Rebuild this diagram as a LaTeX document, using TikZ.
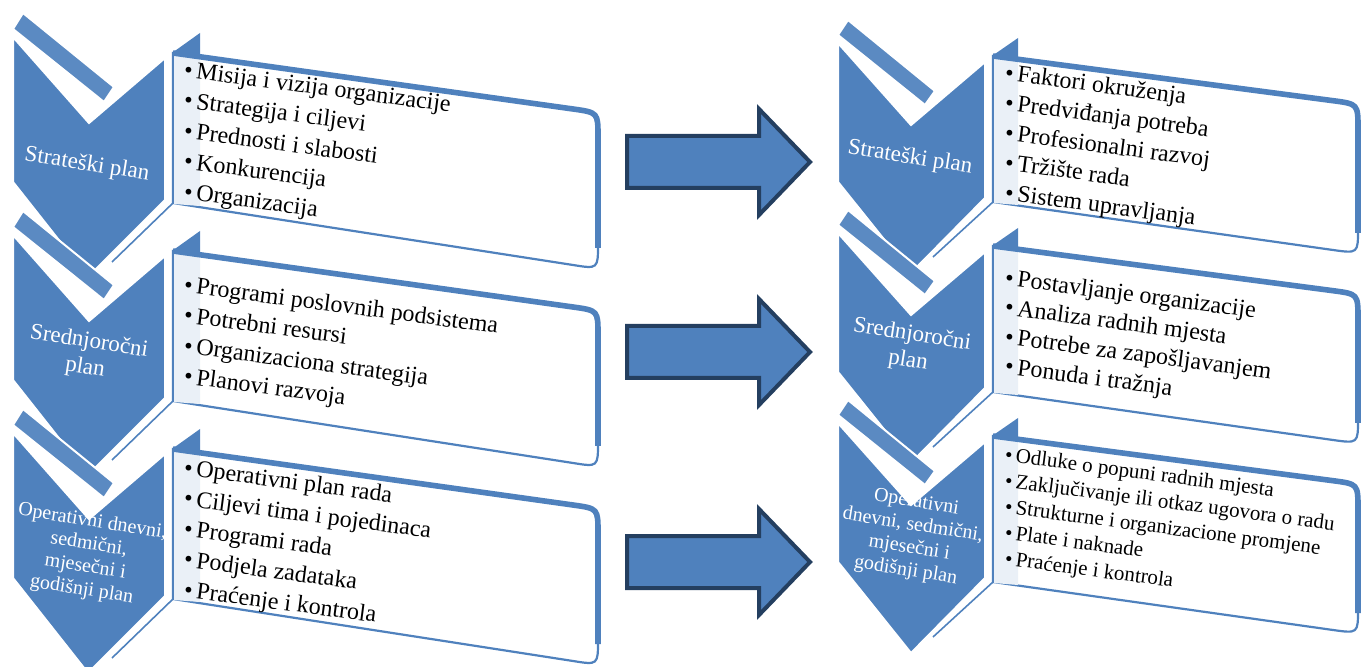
\documentclass[tikz,border=0pt]{standalone}
\usepackage{fontspec}
\setmainfont{Liberation Serif}
\newfontfamily\planfont{Liberation Serif}
\definecolor{chevblue}{HTML}{4F81BD}
\definecolor{arrowline}{HTML}{243F60}
\begin{document}
\begin{tikzpicture}[x=0.5pt,y=-0.5pt,
	chev/.style={fill=chevblue,draw=white,line width=1pt},
	stripe/.style={fill=chevblue!93!white,draw=white,line width=1pt},
	box/.style={fill=white,draw=chevblue,line width=1.1pt},
	boxtop/.style={draw=chevblue,line width=2.8pt},
	tab/.style={fill=chevblue},
	item/.style={anchor=base west,inner sep=0pt,rotate=-7.5,font=\planfont\fontsize{12}{14}\selectfont},
	lab/.style={text=white,align=center,inner sep=0pt,rotate=-9,font=\planfont\fontsize{11.5}{13}\selectfont},
	bigarrow/.style={fill=chevblue,draw=arrowline,line width=2pt}]
	\useasboundingbox (0,0) rectangle (1369,667);

	% left column: chevrons and boxes
	\foreach \k in {0,1,2}{
		\begin{scope}[shift={(0,198*\k)}]
			\draw[chev] (13,37) -- (89,123) -- (165,58) -- (165,200) -- (88,277) -- (13,182) -- cycle;
			\draw[stripe] (13,29) -- (23,13) -- (114,87) -- (104,102) -- cycle;
			\draw[chevblue,line width=0.8pt] (173,203) -- (112,262);
			\fill[tab] (172,53) -- (200,33) -- (200,57) -- cycle;
			\draw[box] (173,53) -- (573,109) .. controls (598,112.5) .. (598,137) -- (598,244) .. controls (598,269) .. (573,265) -- (173,203) -- cycle;
			\fill[chevblue!12] (174,55) -- (200,57) -- (200,206) -- (174,204) -- cycle;
			\draw[boxtop] (173,53) -- (573,109) .. controls (598,112.5) .. (598,137) -- (598,248);
		\end{scope}
	}

	% right column: chevrons and boxes
	\foreach \k in {0,1,2}{
		\begin{scope}[shift={(0,190*\k)}]
			\draw[chev] (838,43) -- (911,125) -- (985,62) -- (985,198) -- (911,273) -- (838,182) -- cycle;
			\draw[stripe] (838,35) -- (848,20) -- (935,91) -- (925,105) -- cycle;
			\draw[chevblue,line width=0.8pt] (993,202) -- (933,257);
			\fill[tab] (992,56) -- (1018,38) -- (1018,59) -- cycle;
			\draw[box] (993,56) -- (1333,100.7) .. controls (1358,104) .. (1358,129) -- (1358,229) .. controls (1358,253.5) .. (1333,250) -- (993,202) -- cycle;
			\fill[chevblue!12] (994,58) -- (1018,61) -- (1018,205) -- (994,203) -- cycle;
			\draw[boxtop] (993,56) -- (1333,100.7) .. controls (1358,104) .. (1358,129) -- (1358,233);
		\end{scope}
	}

	% block arrows
	\foreach \cy in {162,352,562}
		\draw[bigarrow] (627,\cy-26) -- (759,\cy-26) -- (759,\cy-53) -- (810,\cy) -- (759,\cy+53) -- (759,\cy+26) -- (627,\cy+26) -- cycle;

	% chevron labels
	\node[lab] (stratL) at (87,165) {Strateški plan};
	\node[lab] (srednjL) at (87,355) {Srednjoročni\\plan};
	\node[lab,font=\planfont\fontsize{10}{11.5}\selectfont] (operL) at (87,556) {Operativni dnevni,\\sedmični,\\mjesečni i\\godišnji plan};
	\node[lab] (stratR) at (910,158) {Strateški plan};
	\node[lab] (srednjR) at (910,348) {Srednjoročni\\plan};
	\node[lab,font=\planfont\fontsize{10}{11.5}\selectfont] (operR) at (911,537) {Operativni\\dnevni, sedmični,\\mjesečni i\\godišnji plan};

	% box texts, left
	\foreach \itm [count=\i] in {Misija i vizija organizacije,Strategija i ciljevi,Prednosti i slabosti,Konkurencija,Organizacija}
		\node[item] (stratL\i) at (183,{46.5+30.5*\i}) {•\,\itm};
	\foreach \itm [count=\i] in {Programi poslovnih podsistema,Potrebni resursi,Organizaciona strategija,Planovi razvoja}
		\node[item] (srednjL\i) at (183,{261.5+30.5*\i}) {•\,\itm};
	\foreach \itm [count=\i] in {Operativni plan rada,Ciljevi tima i pojedinaca,Programi rada,Podjela zadataka,Praćenje i kontrola}
		\node[item] (operL\i) at (183,{444.5+30.5*\i}) {•\,\itm};

	% box texts, right
	\foreach \itm [count=\i] in {Faktori okruženja,Predviđanja potreba,Profesionalni razvoj,Tržište rada,Sistem upravljanja}
		\node[item] (stratR\i) at (1004,{50+30*\i}) {•\,\itm};
	\foreach \itm [count=\i] in {Postavljanje organizacije,Analiza radnih mjesta,Potrebe za zapošljavanjem,Ponuda i tražnja}
		\node[item] (srednjR\i) at (1004,{255.5+29.5*\i}) {•\,\itm};
	\foreach \itm [count=\i] in {Odluke o popuni radnih mjesta,Zaključivanje ili otkaz ugovora o radu,Strukturne i organizacione promjene,Plate i naknade,Praćenje i kontrola}
		\node[item,font=\planfont\fontsize{10.5}{12}\selectfont] (operR\i) at (1004,{435+26*\i}) {•\,\itm};
\end{tikzpicture}
\end{document}
